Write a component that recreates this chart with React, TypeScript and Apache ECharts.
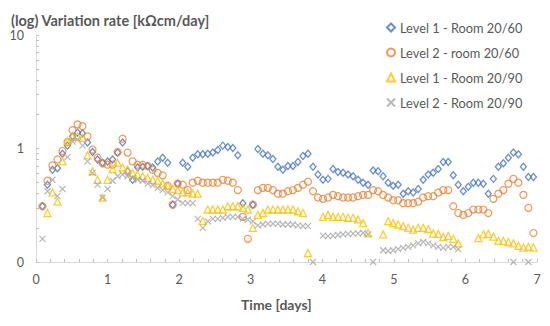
import React, { useEffect, useRef } from "react";
import * as echarts from "echarts";

// Time of each measurement [days]
const times = [
  0.09, 0.16, 0.23, 0.3, 0.37, 0.44, 0.51, 0.58, 0.65, 0.72,
  0.79, 0.86, 0.93, 1.0, 1.07, 1.14, 1.21, 1.28, 1.35, 1.42,
  1.49, 1.56, 1.63, 1.7, 1.77, 1.84, 1.91, 1.98, 2.05, 2.12,
  2.19, 2.26, 2.33, 2.4, 2.47, 2.54, 2.61, 2.68, 2.75, 2.82,
  2.89, 2.96, 3.03, 3.1, 3.17, 3.24, 3.31, 3.38, 3.45, 3.52,
  3.59, 3.66, 3.73, 3.8, 3.87, 3.94, 4.01, 4.08, 4.15, 4.22,
  4.29, 4.36, 4.43, 4.5, 4.57, 4.64, 4.71, 4.78, 4.85, 4.92,
  4.99, 5.06, 5.13, 5.2, 5.27, 5.34, 5.41, 5.48, 5.55, 5.62,
  5.69, 5.76, 5.83, 5.9, 5.97, 6.04, 6.11, 6.18, 6.25, 6.32,
  6.39, 6.46, 6.53, 6.6, 6.67, 6.74, 6.81, 6.88, 6.95,
];

const level1Room2060 = [
  0.31, 0.48, 0.65, 0.67, 0.9, 1.06, 1.28, 1.38, 1.36, 1.13,
  0.93, 0.8, 0.75, 0.77, 0.8, 0.92, 1.13, 0.63, 0.53, 0.68,
  0.69, 0.7, 0.68, 0.77, 0.83, 0.75, 0.32, 0.49, 0.75, 0.69,
  0.83, 0.89, 0.89, 0.9, 0.92, 0.97, 1.06, 1.03, 1.01, 0.87,
  0.33, null, 0.32, 0.99, 0.9, 0.87, 0.81, 0.69, 0.65, 0.7,
  0.7, 0.76, 0.86, 0.9, 0.69, 0.59, 0.53, 0.54, 0.66, 0.62,
  0.61, 0.59, 0.57, 0.53, 0.5, 0.48, 0.64, 0.63, 0.57, 0.5,
  0.47, 0.48, 0.4, 0.42, 0.41, 0.44, 0.53, 0.59, 0.61, 0.66,
  0.76, 0.76, 0.58, 0.48, 0.42, 0.46, 0.5, 0.5, 0.49, 0.4,
  0.54, 0.69, 0.74, 0.83, 0.92, 0.89, 0.69, 0.56, 0.56,
];

const level2Room2060 = [
  0.31, 0.52, 0.71, 0.8, 0.95, 1.14, 1.45, 1.63, 1.57, 1.28,
  0.98, 0.83, 0.74, 0.72, 0.72, 0.93, 1.22, 0.92, 0.77, 0.72,
  0.72, 0.7, 0.65, 0.61, 0.58, 0.47, 0.32, 0.49, 0.48, 0.43,
  0.5, 0.52, 0.5, 0.5, 0.5, 0.5, 0.53, 0.52, 0.5, 0.43,
  0.25, 0.16, 0.32, 0.43, 0.45, 0.45, 0.43, 0.4, 0.4, 0.42,
  0.43, 0.45, 0.48, 0.51, 0.42, 0.37, 0.36, 0.37, 0.39, 0.38,
  0.37, 0.37, 0.37, 0.38, 0.39, 0.39, 0.43, 0.42, 0.39, 0.37,
  0.35, 0.35, 0.33, 0.33, 0.33, 0.34, 0.37, 0.38, 0.38, 0.41,
  0.43, 0.43, 0.31, 0.27, 0.26, 0.27, 0.29, 0.29, 0.29, 0.27,
  0.36, 0.4, 0.43, 0.49, 0.54, 0.5, 0.39, 0.3, 0.18,
];

const level1Room2090 = [
  null, 0.27, 0.41, 0.34, 0.77, 1.16, 1.27, 1.28, 1.24, 0.87,
  0.63, 0.53, 0.37, 0.53, 0.66, 0.75, 0.68, 0.65, 0.61, 0.59,
  0.57, 0.55, 0.53, 0.52, 0.49, 0.47, 0.44, 0.43, 0.41, 0.41,
  0.4, 0.4, 0.23, 0.29, 0.29, 0.29, 0.29, 0.31, 0.31, 0.31,
  0.3, 0.29, 0.2, 0.26, 0.27, 0.29, 0.29, 0.29, 0.29, 0.29,
  0.29, 0.28, 0.27, 0.12, null, null, 0.25, 0.26, 0.25, 0.25,
  0.25, 0.245, 0.245, 0.237, 0.22, 0.18, null, null, 0.175, 0.229,
  0.22, 0.214, 0.207, 0.2, 0.193, 0.2, 0.2, 0.195, 0.178, 0.177,
  0.166, 0.17, 0.16, 0.146, null, null, null, 0.162, 0.175, 0.177,
  0.167, 0.154, 0.153, 0.15, 0.146, 0.139, 0.134, 0.136, 0.134,
];

const level2Room2090 = [
  0.16, 0.42, 0.53, 0.38, 0.44, 0.84, 1.15, 1.2, 1.06, 0.77,
  0.61, 0.48, 0.37, 0.44, 0.52, 0.57, 0.59, 0.57, 0.55, 0.53,
  0.52, 0.49, 0.475, 0.45, 0.43, 0.41, 0.38, 0.355, 0.33, 0.33,
  0.33, 0.24, 0.2, 0.228, 0.24, 0.24, 0.245, 0.25, 0.25, 0.25,
  0.24, 0.237, 0.228, 0.21, 0.214, 0.218, 0.218, 0.218, 0.214, 0.214,
  0.214, 0.21, 0.207, 0.207, 0.1, null, 0.171, 0.169, 0.171, 0.173,
  0.175, 0.177, 0.178, 0.179, 0.18, 0.175, 0.1, null, 0.127, 0.125,
  0.127, 0.13, 0.133, 0.136, 0.14, 0.146, 0.15, 0.146, 0.14, 0.136,
  0.133, 0.136, 0.136, 0.13, null, null, null, null, null, null,
  null, null, null, null, 0.1, null, null, 0.1, null,
];

const seriesNames = [
  "Level 1 - Room 20/60",
  "Level 2 - room 20/60",
  "Level 1 - Room 20/90",
  "Level 2 - Room 20/90",
];

const yMinorTickValues = [
  0.1, 0.2, 0.3, 0.4, 0.5, 0.6, 0.7, 0.8, 0.9,
  1, 2, 3, 4, 5, 6, 7, 8, 9, 10,
];

const FONT = "Lato, 'Open Sans', sans-serif";
const TEXT = "#595959";
const AXIS = "#D9D9D9";

function pairs(values: (number | null)[]) {
  const out: number[][] = [];
  values.forEach((v, i) => {
    if (v !== null) out.push([times[i], v]);
  });
  return out;
}

export default function App() {
  const ref = useRef<HTMLDivElement>(null);

  useEffect(() => {
    if (!ref.current) return;
    const chart = echarts.init(ref.current, undefined, { renderer: "svg" });

    const hollow = (color: string, width = 1.2) => ({
      color: "rgba(0,0,0,0)",
      borderColor: color,
      borderWidth: width,
    });

    chart.setOption({
      animation: false,
      backgroundColor: "#ffffff",
      title: {
        text: "(log) Variation rate [kΩcm/day]",
        left: 6,
        top: 8,
        textStyle: { fontFamily: FONT, fontSize: 14.5, fontWeight: "bold", color: TEXT },
      },
      legend: {
        orient: "vertical",
        left: 381,
        top: 16,
        itemGap: 12,
        itemWidth: 8,
        itemHeight: 8,
        data: seriesNames,
        textStyle: { fontFamily: FONT, fontSize: 12.8, color: TEXT },
      },
      graphic: [
        {
          type: "text",
          left: 241,
          top: 297,
          style: {
            text: "Time [days]",
            fontFamily: FONT,
            fontSize: 14,
            fontWeight: "bold",
            fill: TEXT,
          },
        },
      ],
      grid: { left: 36, right: 13, top: 35, bottom: 64 },
      xAxis: {
        type: "value",
        min: 0,
        max: 7,
        interval: 1,
        axisLine: { show: true, lineStyle: { color: AXIS, width: 1 } },
        axisTick: { show: true, inside: true, length: 3, lineStyle: { color: "#BFBFBF" } },
        minorTick: { show: true, splitNumber: 5, length: 3, lineStyle: { color: "#BFBFBF" } },
        splitLine: { show: false },
        axisLabel: { fontFamily: FONT, fontSize: 12.5, color: TEXT, margin: 11 },
      },
      yAxis: {
        type: "log",
        logBase: 10,
        min: 0.1,
        max: 10,
        axisLine: { show: true, lineStyle: { color: AXIS, width: 1 } },
        axisTick: {
          show: true,
          inside: true,
          length: 3,
          customValues: yMinorTickValues,
          lineStyle: { color: "#BFBFBF" },
        },
        splitLine: { show: false },
        axisLabel: {
          fontFamily: FONT,
          fontSize: 12.5,
          color: TEXT,
          margin: 12,
          formatter: (v: number) => (v < 1 ? "0" : String(Math.round(v))),
        },
      },
      series: [
        {
          name: seriesNames[0],
          type: "scatter",
          symbol: "diamond",
          symbolSize: [6, 7],
          itemStyle: hollow("#4472C4", 1.3),
          data: pairs(level1Room2060),
        },
        {
          name: seriesNames[1],
          type: "scatter",
          symbol: "circle",
          symbolSize: 7,
          itemStyle: hollow("#ED7D31", 1.2),
          data: pairs(level2Room2060),
        },
        {
          name: seriesNames[2],
          type: "scatter",
          symbol: "triangle",
          symbolSize: 7,
          itemStyle: hollow("#FFC000", 1.3),
          data: pairs(level1Room2090),
        },
        {
          name: seriesNames[3],
          type: "scatter",
          symbol: "path://M0,0L10,10M10,0L0,10",
          symbolSize: 6,
          itemStyle: hollow("#A5A5A5", 1.2),
          data: pairs(level2Room2090),
        },
      ],
    });

    return () => chart.dispose();
  }, []);

  return <div ref={ref} style={{ width: 550, height: 326, position: "absolute", left: 0, top: 0 }} />;
}
